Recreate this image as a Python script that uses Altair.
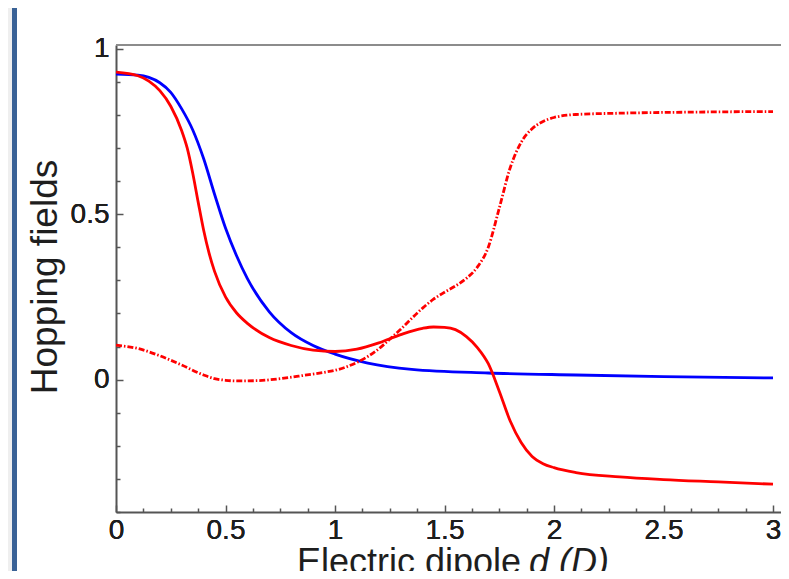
import altair as alt
import pandas as pd

# ---- data ----
d_blue = [0, 0.1, 0.15, 0.2, 0.25, 0.3, 0.35, 0.4, 0.45, 0.5, 0.55, 0.6, 0.7, 0.8, 0.9,
          1.0, 1.15, 1.35, 1.7, 2.1, 2.5, 3.0]
v_blue = [0.923, 0.920, 0.913, 0.897, 0.868, 0.818, 0.755, 0.668, 0.560, 0.458, 0.375,
          0.305, 0.205, 0.142, 0.103, 0.077, 0.050, 0.031, 0.020, 0.014, 0.009, 0.005]

d_red = [0, 0.1, 0.15, 0.2, 0.25, 0.3, 0.325, 0.35, 0.375, 0.4, 0.425, 0.45, 0.5, 0.55,
         0.6, 0.7, 0.8, 0.9, 1.0, 1.1, 1.2, 1.3, 1.4, 1.45, 1.5, 1.55, 1.6, 1.65, 1.7,
         1.75, 1.8, 1.85, 1.9, 1.95, 2.0, 2.1, 2.3, 2.5, 2.75, 3.0]
v_red = [0.929, 0.918, 0.902, 0.873, 0.826, 0.752, 0.700, 0.625, 0.537, 0.452, 0.382,
         0.327, 0.250, 0.202, 0.170, 0.127, 0.103, 0.089, 0.085, 0.092, 0.111, 0.136,
         0.155, 0.159, 0.158, 0.151, 0.130, 0.097, 0.048, -0.035, -0.125, -0.190,
         -0.232, -0.254, -0.266, -0.281, -0.294, -0.302, -0.309, -0.316]

d_dot = [0, 0.1, 0.2, 0.3, 0.4, 0.45, 0.5, 0.55, 0.65, 0.75, 0.85, 0.95, 1.0, 1.05,
         1.1, 1.15, 1.2, 1.25, 1.3, 1.35, 1.4, 1.45, 1.5, 1.55, 1.6, 1.65, 1.7, 1.75,
         1.8, 1.85, 1.9, 1.95, 2.0, 2.1, 2.3, 2.6, 3.0]
v_dot = [0.104, 0.094, 0.072, 0.044, 0.014, 0.003, -0.002, -0.004, -0.003, 0.003,
         0.012, 0.022, 0.028, 0.038, 0.052, 0.070, 0.093, 0.122, 0.152, 0.185, 0.216,
         0.243, 0.264, 0.283, 0.306, 0.340, 0.400, 0.518, 0.640, 0.717, 0.758, 0.780,
         0.792, 0.801, 0.805, 0.808, 0.810]

x_label_values = [0, 0.5, 1, 1.5, 2, 2.5, 3]
y_label_values = [0, 0.5, 1]
x_tick_values = [i * 0.125 for i in range(25)]
y_tick_values = [round(-0.4 + 0.1 * i, 1) for i in range(15)]

x_title = "Electric dipole"
x_title_it = "d (D)"
y_title = "Hopping fields"

# ---- layout ----
W, H = 665, 467
PAD_L, PAD_T, PAD_B = 108, 37, 59
FONT = "Liberation Sans"
TXT = "#1e1e1e"
AX = "#555555"

df_blue = pd.DataFrame({"d": d_blue, "v": v_blue})
df_red = pd.DataFrame({"d": d_red, "v": v_red})
df_dot = pd.DataFrame({"d": d_dot, "v": v_dot})
one = pd.DataFrame({"a": [0]})

xs = alt.Scale(domain=[0, W / 219.0], nice=False, zero=False)
ys = alt.Scale(domain=[-0.4, 1.011], nice=False, zero=False)

x_label_axis = alt.Axis(orient="bottom", values=x_label_values, format="~g", ticks=False,
                        domain=False, grid=False, labelFont=FONT, labelFontSize=28,
                        labelColor=TXT, labelPadding=4, labelOverlap=False,
                        labelFlush=False, title=None)
y_label_axis = alt.Axis(orient="left", values=y_label_values, format="~g", ticks=False,
                        domain=False, grid=False, labelFont=FONT, labelFontSize=28,
                        labelColor=TXT, labelPadding=7, labelOverlap=False,
                        labelFlush=False, title=None)

major_test = "abs(datum.value*2 - round(datum.value*2)) < 0.001"
x_tick_axis = alt.Axis(orient="top", offset=-H, values=x_tick_values, labels=False,
                       ticks=True,
                       tickSize={"condition": {"test": major_test, "value": 7}, "value": 4},
                       tickColor=AX, tickWidth=1.5, domain=True, domainColor=AX,
                       domainWidth=2, grid=False, title=None)
y_tick_axis = alt.Axis(orient="right", offset=-W, values=y_tick_values, labels=False,
                       ticks=True,
                       tickSize={"condition": {"test": major_test, "value": 7}, "value": 4},
                       tickColor=AX, tickWidth=1.5, domain=True, domainColor=AX,
                       domainWidth=2, grid=False, title=None)


def line(df, color, dash=None):
    kw = dict(color=color, strokeWidth=2.8, interpolate="monotone", clip=True)
    if dash:
        kw["strokeDash"] = dash
    return alt.Chart(df).mark_line(**kw).encode(
        x=alt.X("d:Q", scale=xs, axis=x_label_axis),
        y=alt.Y("v:Q", scale=ys, axis=y_label_axis),
    )


blue = line(df_blue, "#0000ff")
red = line(df_red, "#ff0000")
dot = line(df_dot, "#ff0000", dash=[6, 2, 1.5, 2])

ticks = alt.Chart(df_blue).mark_line(opacity=0).encode(
    x=alt.X("d:Q", scale=xs, axis=x_tick_axis),
    y=alt.Y("v:Q", scale=ys, axis=y_tick_axis),
)

top_rule = alt.Chart(one).mark_rule(color="#8c8c8c", strokeWidth=2.2).encode(
    x=alt.value(0), x2=alt.value(W), y=alt.value(0)
)

gray_strip = alt.Chart(one).mark_rect(color="#efefef").encode(
    x=alt.value(-PAD_L), x2=alt.value(-104), y=alt.value(-PAD_T), y2=alt.value(H + PAD_B)
)
blue_strip = alt.Chart(one).mark_rect(color="#3a6296").encode(
    x=alt.value(-104), x2=alt.value(-99), y=alt.value(-PAD_T), y2=alt.value(H + PAD_B)
)

ytitle = alt.Chart(one).mark_text(text=y_title, angle=270, font=FONT, fontSize=37,
                                  color=TXT, align="center", baseline="alphabetic").encode(
    x=alt.value(-59), y=alt.value(232)
)
xtitle1 = alt.Chart(one).mark_text(text=x_title, font=FONT, fontSize=36, color=TXT,
                                   align="left", baseline="alphabetic").encode(
    x=alt.value(181), y=alt.value(529)
)
xtitle2 = alt.Chart(one).mark_text(text=x_title_it, font=FONT, fontSize=36, color=TXT,
                                   fontStyle="italic", align="left",
                                   baseline="alphabetic").encode(
    x=alt.value(413), y=alt.value(529)
)

chart = alt.layer(
    gray_strip, blue_strip, ticks, top_rule, blue, red, dot, ytitle, xtitle1, xtitle2
).resolve_axis(x="independent", y="independent").properties(
    width=W, height=H,
    padding={"left": PAD_L, "top": PAD_T, "right": 0, "bottom": PAD_B},
    autosize=alt.AutoSizeParams(type="none"),
    background="white",
).configure_view(stroke=None)

chart.save("out.html", embed_options={"renderer": "svg", "actions": False})
